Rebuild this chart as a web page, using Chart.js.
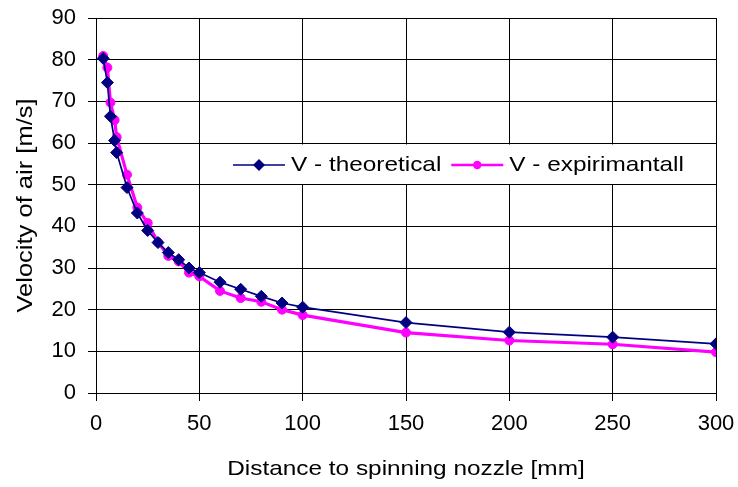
<!DOCTYPE html>
<html>
<head>
<meta charset="utf-8">
<title>Velocity of air</title>
<script src="https://cdn.jsdelivr.net/npm/chart.js@4.4.1/dist/chart.umd.min.js"></script>
<style>
  html, body { margin: 0; padding: 0; background: #fff; }
  canvas { display: block; }
</style>
</head>
<body>
<canvas id="airChart" width="738" height="487"></canvas>
<script>
// distances along the nozzle axis [mm]
const distances = [3.5, 5.5, 7, 9, 10, 15, 20, 25, 30, 35, 40, 45, 50, 60, 70, 80, 90, 100, 150, 200, 250, 300];
// air velocity [m/s]
const vTheoretical = [80.3, 74.5, 66.4, 60.6, 57.7, 49.3, 43.2, 39.0, 36.1, 33.7, 32.0, 30.0, 28.9, 26.6, 24.9, 23.2, 21.6, 20.6, 16.9, 14.6, 13.4, 11.8];
const vExperimental = [80.9, 78.1, 69.7, 65.5, 61.4, 52.4, 44.5, 40.8, 36.2, 32.9, 31.6, 28.9, 28.0, 24.5, 22.8, 21.9, 20.0, 18.7, 14.5, 12.6, 11.7, 9.8];
const seriesNames = ['V - theoretical', 'V - expirimantall'];
const xTicks = [0, 50, 100, 150, 200, 250, 300];
const yTicks = [0, 10, 20, 30, 40, 50, 60, 70, 80, 90];
const xTitle = 'Distance to spinning nozzle [mm]';
const yTitle = 'Velocity of air [m/s]';

const FONT = '"Liberation Sans", Arial, sans-serif';
const TEXT_STRETCH = 1.16; // the original text is a bit wider than Arial

function toPoints(xs, ys) {
    return xs.map((x, i) => ({ x: x, y: ys[i] }));
}

// draw text widened horizontally around its anchor
function wideText(ctx, text, x, y, align) {
    const w = ctx.measureText(text).width * TEXT_STRETCH;
    let left = x;
    if (align === 'center') left = x - w / 2;
    ctx.save();
    ctx.translate(left, y);
    ctx.scale(TEXT_STRETCH, 1);
    ctx.textAlign = 'left';
    ctx.fillText(text, 0, 0);
    ctx.restore();
    return w;
}

// legend sits inside the plot on a white box
const legendBox = { left: 224, top: 144.5, right: 715, bottom: 184 };

const boxLegend = {
    id: 'boxLegend',
    afterDraw(chart) {
        const ctx = chart.ctx;
        const b = legendBox;
        ctx.save();
        ctx.fillStyle = '#fff';
        ctx.fillRect(b.left, b.top, b.right - b.left, b.bottom - b.top);
        ctx.font = '21px ' + FONT;
        ctx.textBaseline = 'alphabetic';
        const y = 165;
        let x = 233;
        chart.data.datasets.forEach(ds => {
            ctx.strokeStyle = ds.borderColor;
            ctx.lineWidth = ds.legendLine;
            ctx.beginPath();
            ctx.moveTo(x, y);
            ctx.lineTo(x + 52, y);
            ctx.stroke();
            const cx = x + 26;
            ctx.fillStyle = ds.borderColor;
            ctx.beginPath();
            if (ds.pointStyle === 'rectRot') {
                const r = 6;
                ctx.moveTo(cx - r, y);
                ctx.lineTo(cx, y - r);
                ctx.lineTo(cx + r, y);
                ctx.lineTo(cx, y + r);
                ctx.closePath();
            } else {
                ctx.arc(cx, y, 4.2, 0, Math.PI * 2);
            }
            ctx.fill();
            ctx.fillStyle = '#000';
            const w = wideText(ctx, ds.label, x + 58, 170.5, 'left');
            x += 58 + w + 10;
        });
        ctx.restore();
    }
};

const axisTitles = {
    id: 'axisTitles',
    afterDraw(chart) {
        const ctx = chart.ctx;
        const area = chart.chartArea;
        ctx.save();
        ctx.fillStyle = '#000';
        ctx.textBaseline = 'middle';
        ctx.font = '21px ' + FONT;
        wideText(ctx, xTitle, (area.left + area.right) / 2, 469, 'center');
        ctx.font = '22px ' + FONT;
        ctx.translate(26, (area.top + area.bottom) / 2);
        ctx.rotate(-Math.PI / 2);
        wideText(ctx, yTitle, 0, 0, 'center');
        ctx.restore();
    }
};

const tickFont = { family: FONT, size: 22 };

const ctx = document.getElementById('airChart').getContext('2d');
const chart = new Chart(ctx, {
    type: 'line',
    data: {
        datasets: [{
            label: seriesNames[0],
            data: toPoints(distances, vTheoretical),
            borderColor: '#000080',
            backgroundColor: '#000080',
            borderWidth: 1.7,
            legendLine: 1.6,
            pointStyle: 'rectRot',
            pointRadius: 6,
            pointBorderWidth: 1,
            pointBackgroundColor: '#000080',
            pointBorderColor: '#000080',
            tension: 0,
            fill: false
        }, {
            label: seriesNames[1],
            data: toPoints(distances, vExperimental),
            borderColor: '#FF00FF',
            backgroundColor: '#FF00FF',
            borderWidth: 3.2,
            legendLine: 2.6,
            pointStyle: 'circle',
            pointRadius: 4.5,
            pointBorderWidth: 1,
            pointBackgroundColor: '#FF00FF',
            pointBorderColor: '#FF00FF',
            tension: 0,
            fill: false
        }]
    },
    options: {
        responsive: false,
        animation: false,
        events: [],
        layout: { padding: { left: 0, top: 18, right: 22, bottom: 0 } },
        plugins: {
            legend: { display: false },
            tooltip: { enabled: false }
        },
        scales: {
            x: {
                type: 'linear',
                min: xTicks[0],
                max: xTicks[xTicks.length - 1],
                afterBuildTicks(s) { s.ticks = xTicks.map(v => ({ value: v })); },
                ticks: { font: tickFont, color: '#000', padding: 10, maxRotation: 0 },
                grid: { color: '#000', lineWidth: 1, tickLength: 8 },
                border: { color: '#000', width: 1 },
                afterFit(s) { s.height = 94; s.paddingLeft = 0; s.paddingRight = 0; }
            },
            y: {
                min: yTicks[0],
                max: yTicks[yTicks.length - 1],
                afterBuildTicks(s) { s.ticks = yTicks.map(v => ({ value: v })); },
                ticks: { font: tickFont, color: '#000', padding: 12 },
                grid: { color: '#000', lineWidth: 1, tickLength: 8 },
                border: { color: '#000', width: 1 },
                afterFit(s) { s.width = 96; s.paddingTop = 0; s.paddingBottom = 0; }
            }
        }
    },
    plugins: [boxLegend, axisTitles]
});
</script>
</body>
</html>
